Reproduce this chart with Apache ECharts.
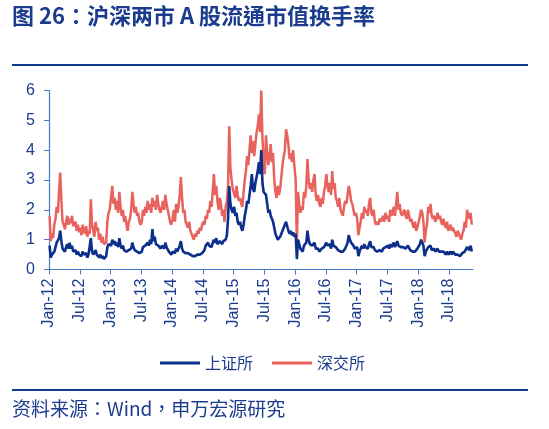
<!DOCTYPE html>
<html>
<head>
<meta charset="utf-8">
<script src="https://cdn.jsdelivr.net/npm/echarts@6/dist/echarts.min.js"></script>
<style>
  html, body { margin: 0; padding: 0; background: #fff; }
  #chart { width: 549px; height: 429px; }
</style>
</head>
<body>
<div id="chart"></div>
<script>
// weekly turnover (%), one array per year
const years = [2012, 2013, 2014, 2015, 2016, 2017, 2018];

const sh2012 = [0.8,0.4,0.5,0.45, 0.6,0.75,0.9,0.85, 1.05,1.3,0.95,0.7,0.65, 0.6,0.75,0.85,0.7, 0.9,0.7,0.8,0.6, 0.55,0.65,0.5,0.6, 0.5,0.55,0.45,0.6,0.5, 0.45,0.55,0.4,0.5, 0.45,1.05,0.6,0.5, 0.45,0.65,0.5,0.55,0.4, 0.5,0.38,0.45,0.35, 0.3,0.45,0.75,0.85,0.8];
const sh2013 = [0.8,1.0,0.85,0.95,0.8, 0.9,0.75,1.05,0.8, 0.7,0.8,0.65,0.7, 0.6,0.55,0.65,0.6, 0.7,0.9,0.75,0.65,0.7, 0.6,0.65,0.55,0.55, 0.6,0.75,0.7,0.8, 0.75,0.9,0.8,1.0,0.85, 1.35,0.95,1.1,0.85, 0.9,0.8,0.75,0.7, 0.8,0.85,0.7,0.9,0.75, 0.7,0.6,0.55,0.5];
const sh2014 = [0.6,0.65,0.55,0.7,0.6, 0.7,0.8,0.95,0.7, 0.6,0.65,0.55,0.5, 0.55,0.6,0.5,0.45, 0.45,0.4,0.45,0.42,0.5, 0.45,0.5,0.48,0.55, 0.6,0.65,0.8,0.75, 0.9,0.8,0.85,0.75,0.9, 1.0,0.9,1.05,0.85, 0.8,0.95,0.9,0.85,0.95, 0.9,1.0,1.15,1.7, 2.8,2.2,2.0,1.9];
const sh2015 = [2.1,1.8,1.9,1.6,1.5, 1.6,1.4,1.3,1.5, 1.8,2.0,2.3,2.2, 2.5,2.8,3.2,2.7, 2.6,2.9,3.1,3.3,3.6, 3.2,4.0,2.9,2.6, 2.6,2.5,2.2,1.9,2.0, 1.8,1.7,1.6,1.4, 1.2,1.1,1.0,1.05, 1.1,1.2,1.3,1.4,1.5, 1.6,1.45,1.3,1.2, 1.3,1.15,1.25,1.1];
const sh2016 = [1.2,0.35,1.0,0.85,0.7, 0.65,0.6,0.8,0.75, 0.9,1.3,1.0,0.85, 0.9,0.8,0.85,0.9,0.7, 0.65,0.7,0.6,0.6, 0.7,0.65,0.75,0.8, 0.9,0.8,0.75,0.85,0.7, 1.0,0.8,0.85,0.75, 0.7,0.65,0.7,0.6,0.6, 0.6,0.65,0.7,0.75, 0.9,1.15,1.0,0.9, 0.85,0.8,0.7,0.75];
const sh2017 = [0.75,0.45,0.6,0.7, 0.8,0.7,0.85,0.75, 0.8,0.7,0.85,0.95,0.75, 0.7,0.75,0.65,0.6, 0.6,0.55,0.65,0.6, 0.6,0.7,0.65,0.75,0.7, 0.8,0.7,0.85,0.75, 0.8,0.9,0.75,0.85, 0.95,0.8,0.85,0.75,0.7, 0.75,0.8,0.7,0.65, 0.8,0.75,0.65,0.7, 0.6,0.65,0.6,0.55,0.7];
const sh2018 = [0.75,0.85,1.0,1.05, 0.8,0.45,0.6,0.65, 0.75,0.7,0.8,0.65,0.7, 0.7,0.6,0.65,0.7, 0.6,0.65,0.6,0.55, 0.6,0.55,0.5,0.6,0.5, 0.55,0.6,0.5,0.6, 0.55,0.5,0.45,0.5,0.5, 0.45,0.5,0.55,0.5, 0.6,0.55,0.75,0.7, 0.65,0.8,0.6];

const sz2012 = [1.8,0.95,1.2,1.05, 1.5,1.7,2.1,1.9, 2.6,3.25,2.3,1.6,1.5, 1.35,1.6,1.8,1.5, 1.7,1.55,1.8,1.45, 1.4,1.6,1.3,1.5, 1.25,1.4,1.15,1.5,1.3, 1.2,1.45,1.1,1.3, 1.2,2.35,1.5,1.3, 1.1,1.6,1.3,1.4,1.0, 1.2,0.9,1.1,0.85, 0.8,0.9,1.6,1.9,2.0];
const sz2013 = [2.0,2.8,2.2,2.4,2.0, 2.3,1.9,2.6,2.1, 1.8,2.0,1.6,1.8, 1.5,1.3,1.6,1.7, 2.0,2.6,2.2,1.9,2.1, 1.8,1.9,1.6,1.5, 1.6,2.0,1.8,2.1, 1.9,2.3,2.0,2.2,1.9, 2.4,2.1,2.3,2.0, 2.5,2.2,2.0,1.9, 2.1,2.3,2.0,2.5,2.2, 2.0,1.8,1.6,1.5];
const sz2014 = [1.7,2.0,1.6,2.2,1.9, 2.1,2.5,3.1,2.4, 1.9,2.0,1.6,1.5, 1.4,1.6,1.3,1.2, 1.15,1.0,1.2,1.1,1.3, 1.2,1.4,1.3,1.5, 1.6,1.5,1.8,1.7, 2.0,1.9,2.3,2.1,2.6, 3.2,2.5,2.8,2.3, 2.0,2.4,2.2,1.8,2.0, 1.6,2.1,2.3,2.8, 4.8,3.4,3.0,2.7];
const sz2015 = [2.7,2.4,2.8,2.5,2.3, 2.4,2.2,2.1,2.6, 3.0,3.3,3.8,3.5, 4.0,4.5,3.9,4.3, 3.8,4.2,4.6,4.8,5.2, 4.6,6.0,4.4,3.6, 3.2,4.5,3.9,3.5,3.8, 4.2,3.6,3.9,3.0, 2.6,2.4,2.8,2.5, 2.7,3.1,3.5,3.8,4.0, 4.7,4.5,4.2,3.7, 3.9,3.6,4.0,3.5];
const sz2016 = [3.0,0.9,2.6,2.2,1.9, 2.1,2.0,2.6,2.4, 2.8,3.7,3.0,2.7, 2.9,2.6,3.0,3.2,2.5, 2.3,2.5,2.2,2.1, 2.4,2.2,2.6,2.8, 3.2,2.8,2.6,2.9,2.5, 3.3,2.7,2.9,2.4, 2.3,2.1,2.4,2.0,1.9, 1.8,2.1,2.3,2.2, 2.5,2.8,2.6,2.3, 2.2,2.0,1.8,1.9];
const sz2017 = [1.7,1.15,1.4,1.6, 1.9,1.7,2.1,1.9, 2.0,1.8,2.2,2.4,1.9, 1.8,2.0,1.6,1.5, 1.6,1.5,1.7,1.6, 1.7,1.8,1.6,1.9,1.7, 1.8,1.6,2.0,1.8, 1.9,2.1,1.8,2.2, 2.6,2.0,2.2,1.9,1.8, 1.9,2.0,1.8,1.7, 2.0,1.8,1.6,1.7, 1.5,1.4,1.6,1.3,1.4];
const sz2018 = [1.6,1.8,2.0,1.9, 1.6,0.9,1.3,1.5, 2.1,1.9,2.2,1.8,1.7, 1.8,1.6,1.7,1.9, 1.7,1.8,1.6,1.5, 1.7,1.5,1.4,1.6,1.3, 1.4,1.5,1.3,1.4, 1.3,1.2,1.1,1.3,1.2, 1.1,1.0,1.2,1.3, 1.6,1.4,2.0,1.8, 1.7,1.9,1.5];

const tickLabels = ['Jan-12','Jul-12','Jan-13','Jul-13','Jan-14','Jul-14','Jan-15','Jul-15',
                    'Jan-16','Jul-16','Jan-17','Jul-17','Jan-18','Jul-18'];
const yTicks = [0, 1, 2, 3, 4, 5, 6];

const navy = '#1b3c8e';
const axisBlue = '#4b77c9';

// x is counted in months from Jan 2012, one point per week
function weekly(arrays) {
  const out = [];
  arrays.forEach(function (arr, k) {
    arr.forEach(function (v, i) {
      out.push([k * 12 + (i + 0.5) * 12 / 52.18, v]);
    });
  });
  return out;
}

const shData = weekly([sh2012, sh2013, sh2014, sh2015, sh2016, sh2017, sh2018]);
const szData = weekly([sz2012, sz2013, sz2014, sz2015, sz2016, sz2017, sz2018]);
const tickMonths = tickLabels.map(function (_, i) { return i * 6; });

let myChart = echarts.init(document.getElementById('chart'));

myChart.setOption({
  animation: false,
  textStyle: { fontFamily: 'Liberation Sans, Noto Sans CJK SC' },
  graphic: [
    {
      type: 'text', left: 12, top: 5,
      style: { text: '图 26：沪深两市 A 股流通市值换手率', fill: navy,
               font: 'bold 22px "Noto Sans CJK TC"' }
    },
    {
      type: 'line', shape: { x1: 12, y1: 65, x2: 528, y2: 65 },
      style: { stroke: '#0f3a8b', lineWidth: 2 }
    },
    {
      type: 'line', shape: { x1: 12, y1: 390, x2: 528, y2: 390 },
      style: { stroke: '#0f3a8b', lineWidth: 2 }
    },
    {
      type: 'text', left: 12, top: 399,
      style: { text: '资料来源：Wind，申万宏源研究', fill: navy,
               font: '19px "Noto Sans CJK TC"' }
    }
  ],
  legend: {
    left: 155,
    top: 350,
    icon: 'rect',
    itemWidth: 40,
    itemHeight: 3,
    itemGap: 19,
    data: ['上证所', '深交所'],
    textStyle: { color: navy, fontSize: 16, fontFamily: 'Noto Sans CJK SC' }
  },
  grid: { left: 49, right: 76, top: 90.5, bottom: 159.5 },
  xAxis: {
    type: 'value',
    min: 0,
    max: 82.7,
    interval: 6,
    splitLine: { show: false },
    axisLine: { lineStyle: { color: axisBlue, width: 1.2 } },
    axisTick: { length: 5, lineStyle: { color: axisBlue }, customValues: tickMonths },
    axisLabel: {
      rotate: 90,
      margin: 9,
      color: navy,
      fontSize: 16,
      customValues: tickMonths,
      formatter: function (v) { return (v % 6 === 0 && tickLabels[v / 6]) || ''; }
    }
  },
  yAxis: {
    type: 'value',
    min: yTicks[0],
    max: yTicks[yTicks.length - 1],
    interval: 1,
    splitLine: { show: false },
    axisLine: { show: true, lineStyle: { color: axisBlue, width: 1.2 } },
    axisTick: { show: true, length: 5, lineStyle: { color: axisBlue } },
    axisLabel: { margin: 14, color: navy, fontSize: 16 }
  },
  series: [
    {
      name: '深交所',
      type: 'line',
      data: szData,
      showSymbol: false,
      color: '#e8635d',
      lineStyle: { width: 2.5, color: '#e8635d' }
    },
    {
      name: '上证所',
      type: 'line',
      data: shData,
      showSymbol: false,
      color: '#0c2f8c',
      lineStyle: { width: 2.6, color: '#0c2f8c' }
    }
  ]
});

window.addEventListener('resize', function () {
  myChart.resize();
});
</script>
</body>
</html>
